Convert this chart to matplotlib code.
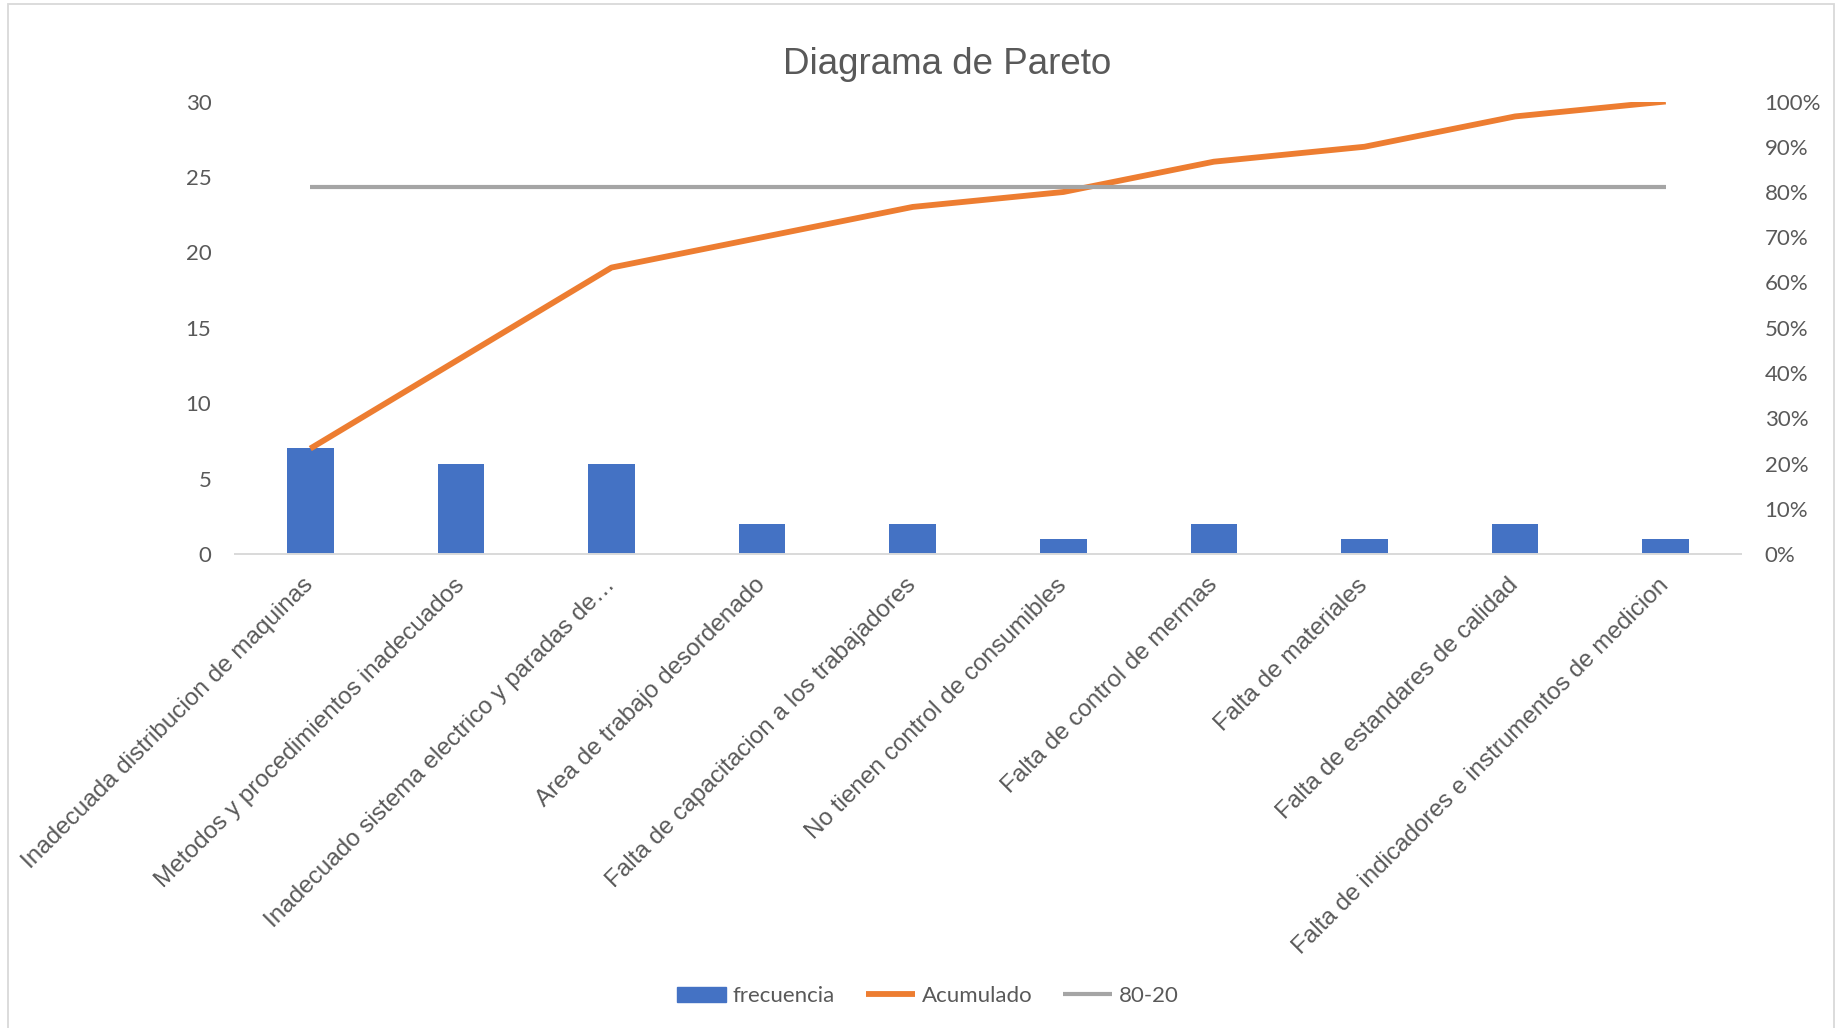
import matplotlib
matplotlib.use("Agg")
import matplotlib.pyplot as plt
from matplotlib.patches import Rectangle
from matplotlib.ticker import PercentFormatter
import numpy as np

# ---- data ----
categories = [
    "Inadecuada distribucion de maquinas",
    "Metodos y procedimientos inadecuados",
    "Inadecuado sistema electrico y paradas de\u2026",
    "Area de trabajo desordenado",
    "Falta de capacitacion a los trabajadores",
    "No tienen control de consumibles",
    "Falta de control de mermas",
    "Falta de materiales",
    "Falta de estandares de calidad",
    "Falta de indicadores e instrumentos de medicion",
]
frecuencia = [7, 6, 6, 2, 2, 1, 2, 1, 2, 1]
acumulado = [0.233, 0.433, 0.633, 0.700, 0.767, 0.800, 0.867, 0.900, 0.967, 1.000]
linea_80_20 = [0.81] * 10

left_ticks = [0, 5, 10, 15, 20, 25, 30]
right_ticks = [0, 0.1, 0.2, 0.3, 0.4, 0.5, 0.6, 0.7, 0.8, 0.9, 1.0]

BLUE = "#4472C4"
ORANGE = "#ED7D31"
GREY = "#A5A5A5"
TXT = "#595959"
AXC = "#D9D9D9"

W, H = 1840, 1028
fig = plt.figure(figsize=(W / 100, H / 100), dpi=100)
fig.patch.set_facecolor("white")

# chart border
fig.patches.append(Rectangle((8 / W, -0.05), (1834 - 8) / W, 1 - 4 / H + 0.05,
                             transform=fig.transFigure, fill=False,
                             edgecolor=AXC, linewidth=1.3))

ax = fig.add_axes([235 / W, 1 - 554 / H, (1741 - 235) / W, (554 - 101.5) / H])
ax2 = ax.twinx()

x = np.arange(len(categories))
ax.bar(x, frecuencia, width=0.31, color=BLUE, label="frecuencia", zorder=2)
ax.set_xlim(-0.5, len(categories) - 0.5)
ax.set_ylim(0, 30)
ax.set_yticks(left_ticks)
ax2.set_ylim(0, 1)
ax2.set_yticks(right_ticks)
ax2.yaxis.set_major_formatter(PercentFormatter(1.0, decimals=0))

l1, = ax2.plot(x, acumulado, color=ORANGE, lw=4.2, solid_capstyle="butt",
               solid_joinstyle="round", label="Acumulado", zorder=3)
l2, = ax2.plot(x, linea_80_20, color=GREY, lw=3.0, solid_capstyle="butt",
               label="80-20", zorder=4)

for a in (ax, ax2):
    for s in a.spines.values():
        s.set_visible(False)
ax.spines["bottom"].set_visible(True)
ax.spines["bottom"].set_color(AXC)
ax.spines["bottom"].set_linewidth(1.4)

ax.tick_params(axis="y", length=0, pad=17, labelsize=16, labelcolor=TXT)
ax2.tick_params(axis="y", length=0, pad=17, labelsize=16, labelcolor=TXT)
for lab in ax.get_yticklabels() + ax2.get_yticklabels():
    lab.set_fontfamily("Lato")

ax.set_xticks(x)
ax.set_xticklabels(categories, fontsize=17.5, color=TXT, family="Liberation Sans")
ax.tick_params(axis="x", length=0, pad=20)
plt.setp(ax.get_xticklabels(), rotation=45, ha="right", va="center",
         rotation_mode="anchor")

fig.text(947 / W, 1 - 64 / H, "Diagrama de Pareto", ha="center", va="center",
         fontsize=26.5, color=TXT, family="Liberation Sans")

bar_handle = Rectangle((0, 0), 1, 1, color=BLUE)
leg = fig.legend([bar_handle, l1, l2], ["frecuencia", "Acumulado", "80-20"],
                 loc="center", bbox_to_anchor=(928 / W, 1 - 996 / H), ncol=3,
                 frameon=False, prop={"family": "Lato", "size": 16},
                 handlelength=2.2, handletextpad=0.3, columnspacing=1.4,
                 handleheight=0.65)
for t in leg.get_texts():
    t.set_color(TXT)

fig.savefig("out.png", dpi=100, facecolor="white")
